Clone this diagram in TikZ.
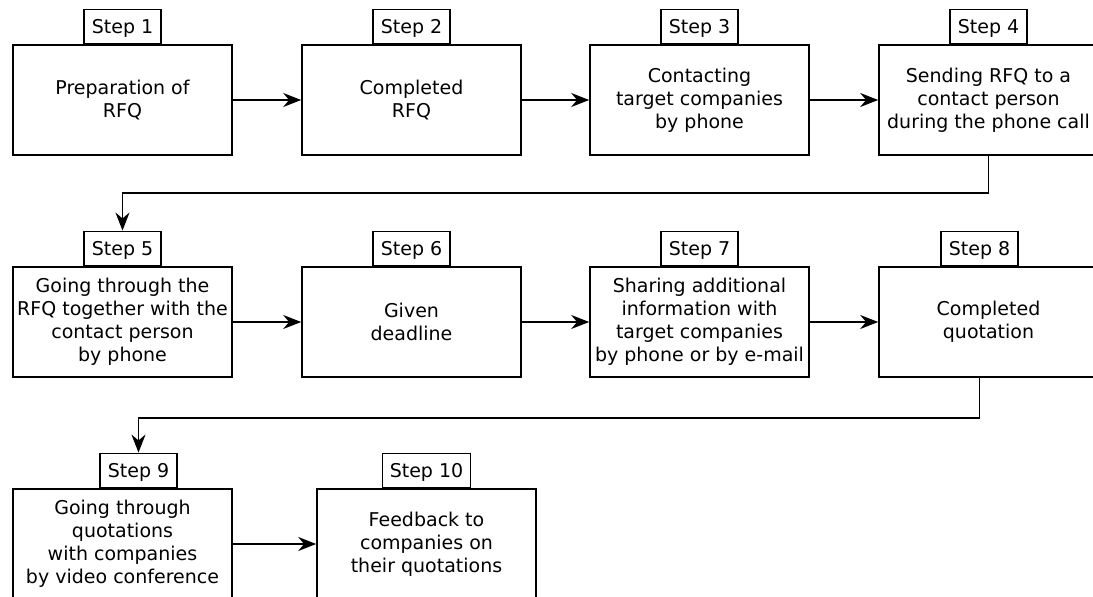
\documentclass[tikz,border=0pt]{standalone}
\usepackage{fontspec}
\setmainfont{DejaVu Sans}
\usetikzlibrary{arrows.meta}

\begin{document}
\begin{tikzpicture}[x=1bp, y=-1bp,
	stepbox/.style={draw=black, line width=1.6bp, minimum width=219bp,
		minimum height=110bp, inner sep=0pt, align=center,
		font=\fontsize{19bp}{23bp}\selectfont},
	steptab/.style={draw=black, line width=1.6bp, minimum width=77bp,
		minimum height=34bp, inner sep=0pt, anchor=south,
		text height=14bp, text depth=0pt,
		font=\fontsize{19bp}{23bp}\selectfont},
	flow/.style={-{Stealth[length=18bp, width=14bp]}, line width=1.6bp}]
	\useasboundingbox (0,0) rectangle (1093,597);
	\clip (0,0) rectangle (1093,597);

	% first row
	\draw (122.5,100) node[stepbox](b1){Preparation of\\RFQ};
	\draw (411.5,100) node[stepbox](b2){Completed\\RFQ};
	\draw (699.5,100) node[stepbox](b3){Contacting\\target companies\\by phone};
	\draw (988.5,100) node[stepbox](b4){Sending RFQ to a\\contact person\\during the phone call};

	% second row
	\draw (122.5,322) node[stepbox](b5){Going through the\\RFQ together with the\\contact person\\by phone};
	\draw (411.5,322) node[stepbox](b6){Given\\deadline};
	\draw (699.5,322) node[stepbox](b7){Sharing additional\\information with\\target companies\\by phone or by e-mail};
	\draw (988.5,322) node[stepbox](b8){Completed\\quotation};

	% third row
	\draw (122.5,544) node[stepbox](b9){Going through\\quotations\\with companies\\by video conference};
	\draw (426.5,544) node[stepbox](b10){Feedback to\\companies on\\their quotations};

	% step tabs
	\draw (b1.north) node[steptab](t1){Step 1};
	\draw (b2.north) node[steptab](t2){Step 2};
	\draw (b3.north) node[steptab](t3){Step 3};
	\draw (b4.north) node[steptab](t4){Step 4};
	\draw (b5.north) node[steptab](t5){Step 5};
	\draw (b6.north) node[steptab](t6){Step 6};
	\draw (b7.north) node[steptab](t7){Step 7};
	\draw ([xshift=-9bp]b8.north) node[steptab](t8){Step 8};
	\draw ([xshift=16bp]b9.north) node[steptab](t9){Step 9};
	\draw (b10.north) node[steptab, minimum width=88bp](t10){Step 10};

	\draw [flow](b1) -- (b2);
	\draw [flow](b2) -- (b3);
	\draw [flow](b3) -- (b4);
	\draw [flow](b4.south) -- ++(0,37) -| (t5.north);
	\draw [flow](b5) -- (b6);
	\draw [flow](b6) -- (b7);
	\draw [flow](b7) -- (b8);
	\draw [flow](t8.north |- b8.south) -- ++(0,40) -| (t9.north);
	\draw [flow](b9) -- (b10);
\end{tikzpicture}
\end{document}
